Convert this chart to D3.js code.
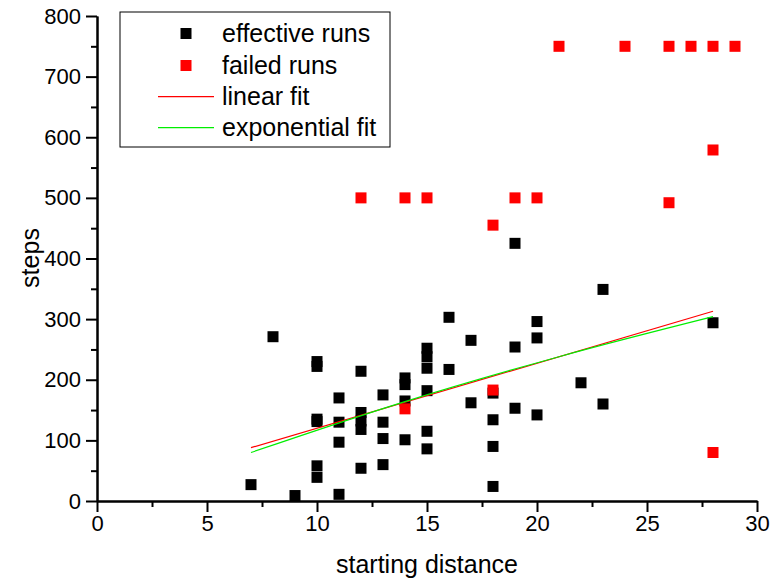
<!DOCTYPE html>
<html>
<head>
<meta charset="utf-8">
<script src="https://cdn.jsdelivr.net/npm/d3@7"></script>
<style>
  html, body { margin: 0; padding: 0; background: #fff; }
  svg { display: block; }
  text { font-family: Arial, "Liberation Sans", sans-serif; fill: #000; }
</style>
</head>
<body>
<svg id="chart" width="771" height="583"></svg>
<script>
// ---- data ----
const effectiveX = [7, 8, 9,
  10, 10, 10, 10, 10, 10,
  11, 11, 11, 11,
  12, 12, 12, 12, 12,
  13, 13, 13, 13,
  14, 14, 14, 14,
  15, 15, 15, 15, 15, 15,
  16, 16,
  17, 17,
  18, 18, 18, 18,
  19, 19, 19,
  20, 20, 20,
  22,
  23, 23,
  28];
const effectiveY = [27, 271, 9,
  230, 222, 135, 131, 58, 39,
  170, 130, 97, 11,
  214, 146, 132, 118, 54,
  175, 130, 103, 60,
  203, 192, 165, 101,
  252, 238, 219, 182, 115, 86,
  303, 217,
  265, 162,
  178, 134, 90, 24,
  425, 254, 153,
  296, 269, 142,
  195,
  349, 160,
  294];
const failedX = [12, 14, 15, 19, 20, 18, 14, 18, 21, 24, 26, 27, 28, 29, 28, 26, 28];
const failedY = [500, 500, 500, 500, 500, 455, 152, 183, 750, 750, 750, 750, 750, 750, 579, 492, 80];
const linearFitX = [7, 28];
const linearFitY = [88, 313];
const expFitX = [7, 14, 21, 28];
const expFitY = [80, 164, 238, 304];
const xTicks = [0, 5, 10, 15, 20, 25, 30];
const yTicks = [0, 100, 200, 300, 400, 500, 600, 700, 800];
const legendLabels = ["effective runs", "failed runs", "linear fit", "exponential fit"];
const xTitle = "starting distance";
const yTitle = "steps";

// ---- drawing ----
const svg = d3.select("#chart");
const x = d3.scaleLinear().domain([0, 30]).range([97, 757]);
const y = d3.scaleLinear().domain([0, 800]).range([501, 16]);

// minor ticks
const xMinor = d3.range(0, 30.01, 2.5).filter(v => v % 5 !== 0);
const yMinor = d3.range(0, 800.01, 50).filter(v => v % 100 !== 0);

const gxm = svg.append("g").attr("transform", `translate(0,${y(0)})`)
  .call(d3.axisBottom(x).tickValues(xMinor).tickSize(6).tickSizeOuter(0).tickFormat(""));
const gym = svg.append("g").attr("transform", `translate(${x(0)},0)`)
  .call(d3.axisLeft(y).tickValues(yMinor).tickSize(6).tickSizeOuter(0).tickFormat(""));

const gx = svg.append("g").attr("transform", `translate(0,${y(0)})`)
  .call(d3.axisBottom(x).tickValues(xTicks).tickSize(11).tickSizeOuter(0).tickPadding(3).tickFormat(d3.format("d")));
const gy = svg.append("g").attr("transform", `translate(${x(0)},0)`)
  .call(d3.axisLeft(y).tickValues(yTicks).tickSize(11).tickSizeOuter(0).tickPadding(5).tickFormat(d3.format("d")));

[gxm, gym, gx, gy].forEach(g => {
  g.selectAll("path").attr("stroke", "#000").attr("stroke-width", 2);
  g.selectAll("line").attr("stroke", "#000").attr("stroke-width", 2);
});
[gx, gy].forEach(g => g.selectAll("text")
  .style("font-family", "Arial, 'Liberation Sans', sans-serif")
  .style("font-size", "22px").attr("fill", "#000"));

// markers
const size = 11;
svg.append("g").selectAll("rect").data(effectiveX.map((v, i) => [v, effectiveY[i]]))
  .join("rect")
  .attr("x", d => x(d[0]) - size / 2).attr("y", d => y(d[1]) - size / 2)
  .attr("width", size).attr("height", size).attr("fill", "#000");
svg.append("g").selectAll("rect").data(failedX.map((v, i) => [v, failedY[i]]))
  .join("rect")
  .attr("x", d => x(d[0]) - size / 2).attr("y", d => y(d[1]) - size / 2)
  .attr("width", size).attr("height", size).attr("fill", "#ff0000");

// fit lines
const line = d3.line().x(d => x(d[0])).y(d => y(d[1])).curve(d3.curveMonotoneX);
svg.append("path").datum(linearFitX.map((v, i) => [v, linearFitY[i]]))
  .attr("d", line).attr("fill", "none").attr("stroke", "#ff0000").attr("stroke-width", 1.2);
svg.append("path").datum(expFitX.map((v, i) => [v, expFitY[i]]))
  .attr("d", line).attr("fill", "none").attr("stroke", "#00ee00").attr("stroke-width", 1.2);

// axis titles
svg.append("text").attr("x", 427).attr("y", 573).attr("text-anchor", "middle")
  .style("font-size", "25px").text(xTitle);
svg.append("text").attr("transform", "translate(39,258) rotate(-90)").attr("text-anchor", "middle")
  .style("font-size", "25px").text(yTitle);

// legend
const lg = svg.append("g");
lg.append("rect").attr("x", 120).attr("y", 12).attr("width", 270).attr("height", 135)
  .attr("fill", "#fff").attr("stroke", "#000").attr("stroke-width", 1);
const rowY = [33.5, 65.5, 96.7, 127.7];
lg.append("rect").attr("x", 186 - size / 2).attr("y", rowY[0] - size / 2).attr("width", size).attr("height", size).attr("fill", "#000");
lg.append("rect").attr("x", 186 - size / 2).attr("y", rowY[1] - size / 2).attr("width", size).attr("height", size).attr("fill", "#ff0000");
lg.append("line").attr("x1", 158).attr("x2", 214).attr("y1", rowY[2]).attr("y2", rowY[2]).attr("stroke", "#ff0000").attr("stroke-width", 1.2);
lg.append("line").attr("x1", 158).attr("x2", 214).attr("y1", rowY[3]).attr("y2", rowY[3]).attr("stroke", "#00ee00").attr("stroke-width", 1.2);
legendLabels.forEach((t, i) => {
  lg.append("text").attr("x", 222).attr("y", rowY[i]).attr("dy", "0.35em")
    .style("font-size", "25px").text(t);
});
</script>
</body>
</html>
